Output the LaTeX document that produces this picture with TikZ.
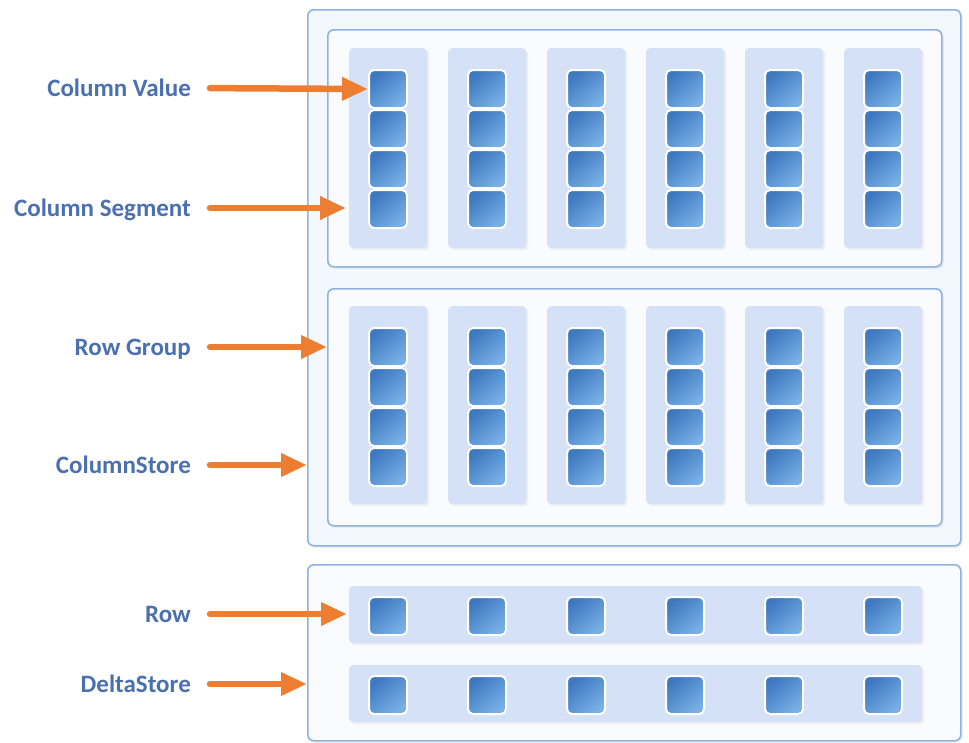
\documentclass[tikz,border=0pt]{standalone}
\usepackage{fontspec}
\setmainfont{Carlito}
\usepackage{tikz}
\usetikzlibrary{arrows.meta,shadows,calc,positioning}

\definecolor{lblblue}{HTML}{4A70B0}
\definecolor{ptrorange}{HTML}{ED7D31}
\definecolor{boxline}{HTML}{8DB4E0}
\definecolor{outerfill}{HTML}{F3F8FE}
\definecolor{innerfill}{HTML}{F9FBFF}
\definecolor{segfill}{HTML}{D4E1F7}
\definecolor{cellhi}{HTML}{3D78C0}
\definecolor{celllo}{HTML}{78B0E6}

\begin{document}
\begin{tikzpicture}[x=1pt,y=-1pt,
  store/.style={draw=boxline, line width=1.6pt, rounded corners=6pt, anchor=north west, inner sep=0pt,
    drop shadow={opacity=0.12, shadow xshift=2pt, shadow yshift=-2pt}},
  seg/.style={fill=segfill, rounded corners=4pt, anchor=north west, inner sep=0pt,
    drop shadow={opacity=0.10, shadow xshift=2pt, shadow yshift=-2pt}},
  cell/.style={draw=white, line width=2pt, rounded corners=5pt, top color=cellhi, bottom color=celllo,
    shading angle=40, minimum size=38pt, anchor=north west, inner sep=0pt},
  lbl/.style={anchor=east, inner sep=0pt, text height=16pt, text depth=0pt, text=lblblue,
    font=\fontsize{25}{30}\selectfont\bfseries},
  ptr/.style={draw=ptrorange, line width=6.5pt, line cap=round, shorten <=19pt,
    -{Triangle[length=26pt,width=22pt]}}]
  \useasboundingbox (0,0) rectangle (969,742);
  \fill[white] (0,0) rectangle (969,742);

  % column store with its two row groups
  \node[store, fill=outerfill, minimum width=653pt, minimum height=536pt] (colstore) at (307,9) {};
  \node[store, fill=innerfill, minimum width=614pt, minimum height=237pt] (grpA) at (327,29) {};
  \node[store, fill=innerfill, minimum width=614pt, minimum height=237pt] (grpB) at (327,288) {};

  \foreach \g/\gy/\gh in {A/48/200,B/306/198} {
    \foreach \c in {0,...,5} {
      \node[seg, minimum width=78pt, minimum height=\gh pt] (seg\g\c) at (349+99*\c,\gy) {};
      \foreach \r in {0,...,3}
        \node[cell] (cell\g\c\r) at (368+99*\c,\gy+21+40*\r) {};
    }
  }

  % delta store
  \node[store, fill=innerfill, minimum width=653pt, minimum height=176pt] (delta) at (307,564) {};
  \foreach \r/\ry in {0/586,1/665} {
    \node[seg, minimum width=573pt, minimum height=57pt] (row\r) at (349,\ry) {};
    \foreach \c in {0,...,5}
      \node[cell] (dcell\r\c) at (368+99*\c,\ry+10) {};
  }

  % labels
  \node[lbl] (lvalue) at (191,88) {Column Value};
  \node[lbl] (lseg) at (191,208) {Column Segment};
  \node[lbl] (lgroup) at (191,347) {Row Group};
  \node[lbl] (lstore) at (191,465) {ColumnStore};
  \node[lbl] (lrow) at (191,614) {Row};
  \node[lbl] (ldelta) at (191,684) {DeltaStore};

  \draw[ptr] (lvalue.east) -- (cellA00.west);
  \draw[ptr, shorten >=3pt] (lseg.east) -- (lseg.east -| segA0.west);
  \draw[ptr] (lgroup.east) -- (lgroup.east -| grpB.west);
  \draw[ptr] (lstore.east) -- (lstore.east -| colstore.west);
  \draw[ptr, shorten >=2pt] (lrow.east) -- (lrow.east -| row0.west);
  \draw[ptr] (ldelta.east) -- (ldelta.east -| delta.west);
\end{tikzpicture}
\end{document}
